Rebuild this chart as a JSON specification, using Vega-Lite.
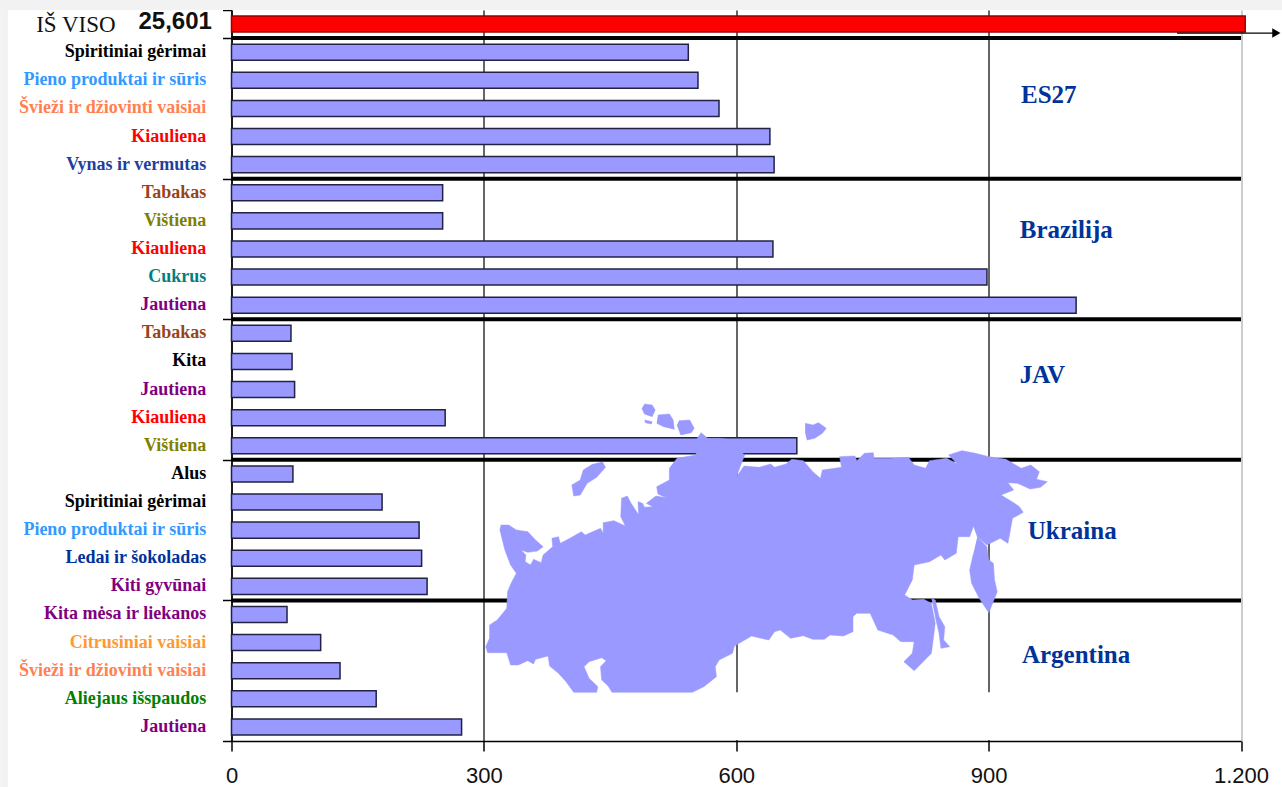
{"$schema":"https://vega.github.io/schema/vega-lite/v6.json","width":1009.5,"height":731,"autosize":"none","padding":{"left":231.5,"top":10,"right":40.5,"bottom":46},"background":"white","config":{"view":{"stroke":null}},
"datasets":{
"bars":[{"row":0,"product":"IŠ VISO","value":1205,"kind":"total","region":"Iš viso"},
{"row":1,"product":"Spiritiniai gėrimai","value":543,"kind":"product","region":"ES27"},{"row":2,"product":"Pieno produktai ir sūris","value":554.5,"kind":"product","region":"ES27"},{"row":3,"product":"Švieži ir džiovinti vaisiai","value":579.5,"kind":"product","region":"ES27"},{"row":4,"product":"Kiauliena","value":640,"kind":"product","region":"ES27"},{"row":5,"product":"Vynas ir vermutas","value":645,"kind":"product","region":"ES27"},
{"row":6,"product":"Tabakas","value":251,"kind":"product","region":"Brazilija"},{"row":7,"product":"Vištiena","value":251,"kind":"product","region":"Brazilija"},{"row":8,"product":"Kiauliena","value":643.6,"kind":"product","region":"Brazilija"},{"row":9,"product":"Cukrus","value":898,"kind":"product","region":"Brazilija"},{"row":10,"product":"Jautiena","value":1004,"kind":"product","region":"Brazilija"},
{"row":11,"product":"Tabakas","value":70.7,"kind":"product","region":"JAV"},{"row":12,"product":"Kita","value":72,"kind":"product","region":"JAV"},{"row":13,"product":"Jautiena","value":75,"kind":"product","region":"JAV"},{"row":14,"product":"Kiauliena","value":254,"kind":"product","region":"JAV"},{"row":15,"product":"Vištiena","value":672,"kind":"product","region":"JAV"},
{"row":16,"product":"Alus","value":73,"kind":"product","region":"Ukraina"},{"row":17,"product":"Spiritiniai gėrimai","value":179,"kind":"product","region":"Ukraina"},{"row":18,"product":"Pieno produktai ir sūris","value":223,"kind":"product","region":"Ukraina"},{"row":19,"product":"Ledai ir šokoladas","value":226,"kind":"product","region":"Ukraina"},{"row":20,"product":"Kiti gyvūnai","value":232.5,"kind":"product","region":"Ukraina"},
{"row":21,"product":"Kita mėsa ir liekanos","value":66,"kind":"product","region":"Argentina"},{"row":22,"product":"Citrusiniai vaisiai","value":106,"kind":"product","region":"Argentina"},{"row":23,"product":"Švieži ir džiovinti vaisiai","value":129,"kind":"product","region":"Argentina"},{"row":24,"product":"Aliejaus išspaudos","value":172,"kind":"product","region":"Argentina"},{"row":25,"product":"Jautiena","value":273.5,"kind":"product","region":"Argentina"}],
"separators":[{"at":1},{"at":6},{"at":11},{"at":16},{"at":21}],
"regions":[{"name":"ES27","value":938.5,"at":3.02},{"name":"Brazilija","value":937,"at":7.83},{"name":"JAV","value":937,"at":12.98},{"name":"Ukraina","value":946.5,"at":18.53},{"name":"Argentina","value":939.6,"at":22.94}],
"frame":[{"a":-275,"b":1249,"c":-0.36,"d":0},{"a":-275,"b":-265.6,"c":-0.36,"d":27.64}],
"arrow":[{"from":1124,"to":1242,"at":0.82}],
"blank":[{"a":20,"b":1500,"c":907,"d":1050}],
"outline":[
{"part":"main","i":1,"mx":55,"my":405},{"part":"main","i":2,"mx":75,"my":405},{"part":"main","i":3,"mx":95,"my":420},{"part":"main","i":4,"mx":125,"my":425},{"part":"main","i":5,"mx":145,"my":450},{"part":"main","i":6,"mx":165,"my":470},{"part":"main","i":7,"mx":150,"my":483},{"part":"main","i":8,"mx":125,"my":487},{"part":"main","i":9,"mx":107,"my":480},{"part":"main","i":10,"mx":120,"my":495},{"part":"main","i":11,"mx":118,"my":515},{"part":"main","i":12,"mx":132,"my":525},{"part":"main","i":13,"mx":140,"my":508},{"part":"main","i":14,"mx":160,"my":518},{"part":"main","i":15,"mx":165,"my":495},{"part":"main","i":16,"mx":190,"my":470},{"part":"main","i":17,"mx":188,"my":445},{"part":"main","i":18,"mx":205,"my":440},{"part":"main","i":19,"mx":210,"my":460},{"part":"main","i":20,"mx":235,"my":445},{"part":"main","i":21,"mx":265,"my":425},{"part":"main","i":22,"mx":275,"my":435},{"part":"main","i":23,"mx":315,"my":415},{"part":"main","i":24,"mx":322,"my":430},{"part":"main","i":25,"mx":322,"my":398},{"part":"main","i":26,"mx":350,"my":392},{"part":"main","i":27,"mx":380,"my":408},{"part":"main","i":28,"mx":368,"my":380},{"part":"main","i":29,"mx":370,"my":325},{"part":"main","i":30,"mx":385,"my":318},{"part":"main","i":31,"mx":395,"my":340},{"part":"main","i":32,"mx":415,"my":375},{"part":"main","i":33,"mx":435,"my":400},{"part":"main","i":34,"mx":465,"my":405},{"part":"main","i":35,"mx":445,"my":412},{"part":"main","i":36,"mx":440,"my":440},{"part":"main","i":37,"mx":445,"my":465},{"part":"main","i":38,"mx":412,"my":468},{"part":"main","i":39,"mx":430,"my":440},{"part":"main","i":40,"mx":432,"my":415},{"part":"main","i":41,"mx":415,"my":380},{"part":"main","i":42,"mx":413,"my":335},{"part":"main","i":43,"mx":425,"my":340},{"part":"main","i":44,"mx":430,"my":352},{"part":"main","i":45,"mx":452,"my":350},{"part":"main","i":46,"mx":435,"my":340},{"part":"main","i":47,"mx":460,"my":318},{"part":"main","i":48,"mx":495,"my":325},{"part":"main","i":49,"mx":510,"my":350},{"part":"main","i":50,"mx":518,"my":375},{"part":"main","i":51,"mx":500,"my":345},{"part":"main","i":52,"mx":490,"my":325},{"part":"main","i":53,"mx":465,"my":312},{"part":"main","i":54,"mx":462,"my":290},{"part":"main","i":55,"mx":495,"my":270},{"part":"main","i":56,"mx":495,"my":235},{"part":"main","i":57,"mx":515,"my":205},{"part":"main","i":58,"mx":565,"my":195},{"part":"main","i":59,"mx":565,"my":150},{"part":"main","i":60,"mx":578,"my":128},{"part":"main","i":61,"mx":595,"my":145},{"part":"main","i":62,"mx":625,"my":145},{"part":"main","i":63,"mx":665,"my":150},{"part":"main","i":64,"mx":670,"my":175},{"part":"main","i":65,"mx":692,"my":195},{"part":"main","i":66,"mx":680,"my":230},{"part":"main","i":67,"mx":670,"my":262},{"part":"main","i":68,"mx":690,"my":228},{"part":"main","i":69,"mx":730,"my":232},{"part":"main","i":70,"mx":760,"my":222},{"part":"main","i":71,"mx":770,"my":232},{"part":"main","i":72,"mx":800,"my":222},{"part":"main","i":73,"mx":815,"my":208},{"part":"main","i":74,"mx":845,"my":212},{"part":"main","i":75,"mx":870,"my":245},{"part":"main","i":76,"mx":890,"my":265},{"part":"main","i":77,"mx":895,"my":240},{"part":"main","i":78,"mx":945,"my":232},{"part":"main","i":79,"mx":940,"my":200},{"part":"main","i":80,"mx":980,"my":198},{"part":"main","i":81,"mx":985,"my":212},{"part":"main","i":82,"mx":1005,"my":190},{"part":"main","i":83,"mx":1028,"my":188},{"part":"main","i":84,"mx":1030,"my":205},{"part":"main","i":85,"mx":1070,"my":205},{"part":"main","i":86,"mx":1120,"my":202},{"part":"main","i":87,"mx":1135,"my":225},{"part":"main","i":88,"mx":1165,"my":235},{"part":"main","i":89,"mx":1175,"my":212},{"part":"main","i":90,"mx":1220,"my":205},{"part":"main","i":91,"mx":1248,"my":222},{"part":"main","i":92,"mx":1225,"my":195},{"part":"main","i":93,"mx":1260,"my":182},{"part":"main","i":94,"mx":1295,"my":190},{"part":"main","i":95,"mx":1330,"my":200},{"part":"main","i":96,"mx":1375,"my":208},{"part":"main","i":97,"mx":1415,"my":235},{"part":"main","i":98,"mx":1440,"my":225},{"part":"main","i":99,"mx":1462,"my":245},{"part":"main","i":100,"mx":1455,"my":268},{"part":"main","i":101,"mx":1483,"my":275},{"part":"main","i":102,"mx":1465,"my":292},{"part":"main","i":103,"mx":1438,"my":297},{"part":"main","i":104,"mx":1405,"my":280},{"part":"main","i":105,"mx":1380,"my":278},{"part":"main","i":106,"mx":1395,"my":300},{"part":"main","i":107,"mx":1362,"my":315},{"part":"main","i":108,"mx":1395,"my":338},{"part":"main","i":109,"mx":1410,"my":350},{"part":"main","i":110,"mx":1420,"my":367},{"part":"main","i":111,"mx":1392,"my":385},{"part":"main","i":112,"mx":1380,"my":460},{"part":"main","i":113,"mx":1360,"my":445},{"part":"main","i":114,"mx":1325,"my":465},{"part":"main","i":115,"mx":1300,"my":440},{"part":"main","i":116,"mx":1290,"my":408},{"part":"main","i":117,"mx":1280,"my":440},{"part":"main","i":118,"mx":1250,"my":440},{"part":"main","i":119,"mx":1245,"my":490},{"part":"main","i":120,"mx":1215,"my":510},{"part":"main","i":121,"mx":1205,"my":495},{"part":"main","i":122,"mx":1175,"my":515},{"part":"main","i":123,"mx":1135,"my":525},{"part":"main","i":124,"mx":1130,"my":570},{"part":"main","i":125,"mx":1110,"my":615},{"part":"main","i":126,"mx":1130,"my":630},{"part":"main","i":127,"mx":1160,"my":628},{"part":"main","i":128,"mx":1180,"my":640},{"part":"main","i":129,"mx":1190,"my":700},{"part":"main","i":130,"mx":1180,"my":790},{"part":"main","i":131,"mx":1135,"my":842},{"part":"main","i":132,"mx":1108,"my":815},{"part":"main","i":133,"mx":1130,"my":790},{"part":"main","i":134,"mx":1135,"my":755},{"part":"main","i":135,"mx":1100,"my":755},{"part":"main","i":136,"mx":1080,"my":735},{"part":"main","i":137,"mx":1040,"my":720},{"part":"main","i":138,"mx":1020,"my":670},{"part":"main","i":139,"mx":985,"my":670},{"part":"main","i":140,"mx":975,"my":680},{"part":"main","i":141,"mx":975,"my":725},{"part":"main","i":142,"mx":950,"my":738},{"part":"main","i":143,"mx":915,"my":735},{"part":"main","i":144,"mx":900,"my":748},{"part":"main","i":145,"mx":870,"my":748},{"part":"main","i":146,"mx":845,"my":737},{"part":"main","i":147,"mx":812,"my":745},{"part":"main","i":148,"mx":785,"my":720},{"part":"main","i":149,"mx":770,"my":725},{"part":"main","i":150,"mx":755,"my":750},{"part":"main","i":151,"mx":735,"my":745},{"part":"main","i":152,"mx":710,"my":738},{"part":"main","i":153,"mx":665,"my":768},{"part":"main","i":154,"mx":660,"my":790},{"part":"main","i":155,"mx":625,"my":810},{"part":"main","i":156,"mx":615,"my":830},{"part":"main","i":157,"mx":618,"my":860},{"part":"main","i":158,"mx":585,"my":890},{"part":"main","i":159,"mx":555,"my":907},{"part":"main","i":160,"mx":345,"my":907},{"part":"main","i":161,"mx":335,"my":888},{"part":"main","i":162,"mx":318,"my":870},{"part":"main","i":163,"mx":315,"my":830},{"part":"main","i":164,"mx":330,"my":812},{"part":"main","i":165,"mx":318,"my":803},{"part":"main","i":166,"mx":285,"my":815},{"part":"main","i":167,"mx":272,"my":830},{"part":"main","i":168,"mx":285,"my":865},{"part":"main","i":169,"mx":308,"my":890},{"part":"main","i":170,"mx":305,"my":907},{"part":"main","i":171,"mx":245,"my":907},{"part":"main","i":172,"mx":225,"my":875},{"part":"main","i":173,"mx":205,"my":850},{"part":"main","i":174,"mx":182,"my":828},{"part":"main","i":175,"mx":178,"my":798},{"part":"main","i":176,"mx":145,"my":808},{"part":"main","i":177,"mx":140,"my":822},{"part":"main","i":178,"mx":125,"my":812},{"part":"main","i":179,"mx":100,"my":825},{"part":"main","i":180,"mx":80,"my":825},{"part":"main","i":181,"mx":70,"my":788},{"part":"main","i":182,"mx":20,"my":788},{"part":"main","i":183,"mx":15,"my":770},{"part":"main","i":184,"mx":25,"my":745},{"part":"main","i":185,"mx":25,"my":705},{"part":"main","i":186,"mx":45,"my":690},{"part":"main","i":187,"mx":70,"my":655},{"part":"main","i":188,"mx":72,"my":605},{"part":"main","i":189,"mx":82,"my":578},{"part":"main","i":190,"mx":95,"my":550},{"part":"main","i":191,"mx":80,"my":525},{"part":"main","i":192,"mx":65,"my":480},{"part":"main","i":193,"mx":52,"my":420},{"part":"main","i":194,"mx":55,"my":405},
{"part":"sakh","i":1,"mx":1300,"my":440},{"part":"sakh","i":2,"mx":1325,"my":470},{"part":"sakh","i":3,"mx":1330,"my":510},{"part":"sakh","i":4,"mx":1342,"my":520},{"part":"sakh","i":5,"mx":1345,"my":570},{"part":"sakh","i":6,"mx":1352,"my":605},{"part":"sakh","i":7,"mx":1340,"my":640},{"part":"sakh","i":8,"mx":1330,"my":668},{"part":"sakh","i":9,"mx":1305,"my":625},{"part":"sakh","i":10,"mx":1285,"my":580},{"part":"sakh","i":11,"mx":1280,"my":540},{"part":"sakh","i":12,"mx":1290,"my":490},
{"part":"kam","i":1,"mx":1180,"my":625},{"part":"kam","i":2,"mx":1190,"my":630},{"part":"kam","i":3,"mx":1200,"my":680},{"part":"kam","i":4,"mx":1215,"my":710},{"part":"kam","i":5,"mx":1212,"my":750},{"part":"kam","i":6,"mx":1228,"my":770},{"part":"kam","i":7,"mx":1205,"my":775},{"part":"kam","i":8,"mx":1200,"my":730},{"part":"kam","i":9,"mx":1190,"my":680},
{"part":"nz","i":1,"mx":320,"my":215},{"part":"nz","i":2,"mx":328,"my":232},{"part":"nz","i":3,"mx":305,"my":262},{"part":"nz","i":4,"mx":280,"my":280},{"part":"nz","i":5,"mx":262,"my":315},{"part":"nz","i":6,"mx":245,"my":318},{"part":"nz","i":7,"mx":240,"my":285},{"part":"nz","i":8,"mx":262,"my":270},{"part":"nz","i":9,"mx":270,"my":240},{"part":"nz","i":10,"mx":295,"my":222},
{"part":"i1","i":1,"mx":430,"my":42},{"part":"i1","i":2,"mx":450,"my":45},{"part":"i1","i":3,"mx":458,"my":60},{"part":"i1","i":4,"mx":450,"my":80},{"part":"i1","i":5,"mx":430,"my":72},{"part":"i1","i":6,"mx":423,"my":55},
{"part":"i2","i":1,"mx":430,"my":90},{"part":"i2","i":2,"mx":450,"my":95},{"part":"i2","i":3,"mx":448,"my":102},{"part":"i2","i":4,"mx":432,"my":98},
{"part":"i3","i":1,"mx":465,"my":75},{"part":"i3","i":2,"mx":495,"my":72},{"part":"i3","i":3,"mx":505,"my":90},{"part":"i3","i":4,"mx":508,"my":118},{"part":"i3","i":5,"mx":480,"my":110},{"part":"i3","i":6,"mx":462,"my":100},
{"part":"i4","i":1,"mx":520,"my":92},{"part":"i4","i":2,"mx":548,"my":90},{"part":"i4","i":3,"mx":560,"my":115},{"part":"i4","i":4,"mx":552,"my":128},{"part":"i4","i":5,"mx":525,"my":135},{"part":"i4","i":6,"mx":515,"my":105},
{"part":"i5","i":1,"mx":850,"my":100},{"part":"i5","i":2,"mx":870,"my":105},{"part":"i5","i":3,"mx":885,"my":98},{"part":"i5","i":4,"mx":905,"my":115},{"part":"i5","i":5,"mx":895,"my":130},{"part":"i5","i":6,"mx":875,"my":145},{"part":"i5","i":7,"mx":855,"my":150},{"part":"i5","i":8,"mx":850,"my":125}
]},
"layer":[
{"layer":[
{"data":{"name":"bars"},"mark":{"type":"bar","strokeWidth":1.5},"encoding":{
"y":{"field":"row","type":"ordinal","axis":null,"scale":{"paddingInner":0.43,"paddingOuter":0.215}},
"x":{"field":"value","type":"quantitative","scale":{"domain":[0,1200],"nice":false},"axis":{"values":[0,300,600,900,1200],"title":null,"grid":true,"gridColor":{"condition":{"test":"datum.value==1200","value":"#bbbbbb"},"value":"#333333"},"gridWidth":1.5,"domainColor":"#000","domainWidth":1.5,"tickColor":"#000","tickWidth":1.5,"tickSize":10,"labelFont":"Liberation Sans","labelFontSize":22,"labelColor":"#111","labelPadding":14,"labelOverlap":false,"labelFlush":false,"labelExpr":"replace(format(datum.value,','),',','.')"}},
"fill":{"field":"kind","type":"nominal","legend":null,"scale":{"domain":["total","product"],"range":["#ff0000","#9999ff"]}},
"stroke":{"field":"kind","type":"nominal","legend":null,"scale":{"domain":["total","product"],"range":["#990000","#222244"]}}}},
{"data":{"name":"bars"},"transform":[{"filter":"datum.kind=='product'"}],"mark":{"type":"text","align":"right","baseline":"middle","font":"Liberation Serif","fontWeight":"bold","fontSize":18},"encoding":{
"y":{"field":"row","type":"ordinal","axis":null},
"x":{"datum":-30,"type":"quantitative"},
"text":{"field":"product"},
"color":{"field":"product","type":"nominal","legend":null,"scale":{"domain":["Spiritiniai gėrimai","Pieno produktai ir sūris","Švieži ir džiovinti vaisiai","Kiauliena","Vynas ir vermutas","Tabakas","Vištiena","Cukrus","Jautiena","Kita","Alus","Ledai ir šokoladas","Kiti gyvūnai","Kita mėsa ir liekanos","Citrusiniai vaisiai","Aliejaus išspaudos"],"range":["#000000","#3399ff","#ff8050","#ff0000","#1f3f9f","#99441a","#808000","#008080","#800080","#000000","#000000","#003399","#800080","#800080","#ff9933","#008000"]}}}}
]},
{"layer":[
{"data":{"name":"frame"},"mark":{"type":"rect","color":"#f2f2f2"},"encoding":{
"x":{"field":"a","type":"quantitative","axis":null,"scale":{"domain":[0,1200],"nice":false}},"x2":{"field":"b"},
"y":{"field":"c","type":"quantitative","scale":{"domain":[0,26],"reverse":true,"nice":false},"axis":{"values":[0,1,6,11,16,21,26],"title":null,"labels":false,"grid":false,"tickSize":9,"tickColor":"#000","tickWidth":1.5,"domainColor":"#000","domainWidth":1.5}},"y2":{"field":"d"}}},
{"data":{"name":"separators"},"mark":{"type":"rule","color":"#000","strokeWidth":4},"encoding":{"y":{"field":"at","type":"quantitative"}}},
{"data":{"name":"arrow"},"mark":{"type":"rule","color":"#000","strokeWidth":1.2},"encoding":{"x":{"field":"from","type":"quantitative"},"x2":{"field":"to"},"y":{"field":"at","type":"quantitative"}}},
{"data":{"name":"arrow"},"mark":{"type":"point","shape":"triangle-right","filled":true,"color":"#000","size":90,"opacity":1},"encoding":{"x":{"field":"to","type":"quantitative"},"y":{"field":"at","type":"quantitative"}}},
{"data":{"values":[{"t":"IŠ VISO","value":-185,"at":0.55}]},"mark":{"type":"text","font":"Liberation Serif","fontSize":23,"color":"#111","baseline":"middle"},"encoding":{"x":{"field":"value","type":"quantitative"},"y":{"field":"at","type":"quantitative"},"text":{"field":"t"}}},
{"data":{"values":[{"t":"25,601","value":-67,"at":0.42}]},"mark":{"type":"text","font":"Liberation Sans","fontSize":24,"fontWeight":"bold","color":"#111","baseline":"middle"},"encoding":{"x":{"field":"value","type":"quantitative"},"y":{"field":"at","type":"quantitative"},"text":{"field":"t"}}},
{"data":{"name":"regions"},"mark":{"type":"text","font":"Liberation Serif","fontWeight":"bold","fontSize":25,"color":"#003399","align":"left","baseline":"middle"},"encoding":{"x":{"field":"value","type":"quantitative"},"y":{"field":"at","type":"quantitative"},"text":{"field":"name"}}}
]},
{"layer":[
{"data":{"name":"blank"},"mark":{"type":"rect","color":"white"},"encoding":{
"x":{"field":"a","type":"quantitative","axis":null,"scale":{"domain":[-649.6,1989.3],"nice":false,"zero":false}},"x2":{"field":"b"},
"y":{"field":"c","type":"quantitative","axis":null,"scale":{"domain":[-1140,1053],"reverse":true,"nice":false,"zero":false}},"y2":{"field":"d"}}},
{"data":{"name":"outline"},"mark":{"type":"line","fill":"#9999ff","stroke":"#9999ff","strokeWidth":0.5},"encoding":{
"x":{"field":"mx","type":"quantitative"},"y":{"field":"my","type":"quantitative"},"detail":{"field":"part"},"order":{"field":"i","type":"quantitative"}}}
]}
],
"resolve":{"scale":{"x":"independent","y":"independent"},"axis":{"x":"independent","y":"independent"}}}
